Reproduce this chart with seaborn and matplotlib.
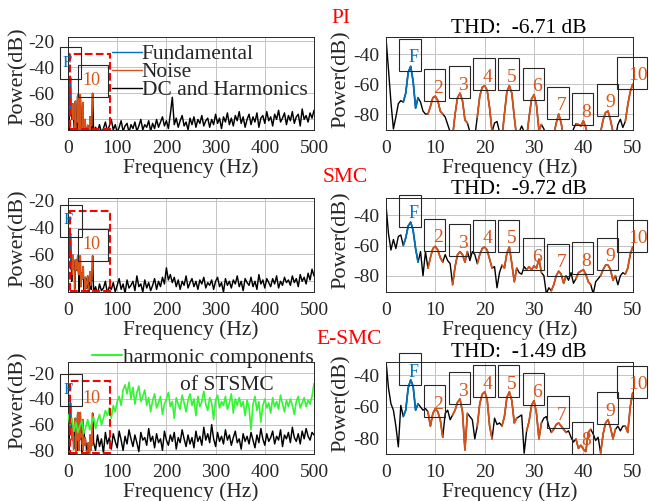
import numpy as np
import matplotlib
matplotlib.use("Agg")
import matplotlib.pyplot as plt
import seaborn as sns
from matplotlib.patches import Rectangle
from matplotlib.lines import Line2D
from matplotlib.transforms import ScaledTranslation

# ---------------- data ----------------
controllers = ["PI", "SMC", "E-SMC"]
thd_values = [-6.71, -9.72, -1.49]
harmonic_labels = ["F", "2", "3", "4", "5", "6", "7", "8", "9", "10"]
harmonic_freqs = [5, 10, 15, 20, 25, 30, 35, 40, 45, 50]

# 0-50 Hz spectrum, 0.5 Hz bins
zoom_freq = np.arange(0, 50.25, 0.5)
pi_zoom = [
    -29, -50, -72, -90, -82, -73, -71, -72, -66, -52,
    -48, -58, -76, -69, -72, -78, -80, -80, -75, -69,
    -68, -71, -78, -80, -82, -87, -92, -95, -80, -69,
    -66, -71, -84, -86, -92, -96, -95, -82, -68, -62,
    -61, -64, -76, -92, -86, -85, -92, -96, -80, -65,
    -61, -66, -82, -96, -92, -88, -92, -96, -82, -70,
    -67, -74, -91, -87, -90, -96, -96, -96, -94, -86,
    -80, -86, -96, -96, -96, -96, -90, -86.5, -87, -88,
    -84.5, -89, -96, -96, -96, -96, -96, -92, -84, -79,
    -78, -84, -92, -96, -87, -83.5, -89, -85, -74, -65,
    -60]
smc_zoom = [
    -33, -52, -63, -56, -62, -54, -53, -60, -55, -47,
    -44.5, -50, -62, -71, -64, -80, -64, -75, -68, -62,
    -60.5, -63, -68, -71, -66, -70, -72, -86, -74, -66,
    -64, -66, -71, -64, -70, -64, -66, -72, -66, -62,
    -61, -63, -69, -75, -74, -88, -78, -73, -75, -65,
    -61, -72, -84, -75, -78, -79, -74, -76, -74, -76,
    -73.5, -75, -69, -78, -80, -92, -88, -90, -86, -80,
    -77, -79, -85, -80, -83, -78, -85, -82, -78, -77,
    -76, -79, -84, -86, -92, -84, -82, -80, -76, -73,
    -73, -76, -83, -80, -86, -80, -78, -79, -75, -66,
    -61]
esmc_zoom = [
    -31, -48, -58, -62, -72, -85, -59, -66, -62, -48,
    -43, -47, -62, -58, -60, -62, -61, -63, -72, -64,
    -61, -63, -68, -79, -64, -62, -68, -65, -62, -57,
    -55, -63, -87, -64, -66, -68, -80, -72, -58, -52,
    -50.5, -55, -72, -80, -67, -71, -70, -72, -66, -54,
    -50.5, -56, -70, -67, -66, -65, -89, -75, -69, -59,
    -56, -64, -80, -70, -67, -66, -72, -76, -74, -71,
    -70, -72, -74, -76, -75, -79, -82, -80, -86, -84,
    -86.5, -88, -76, -74, -77, -81, -79, -89, -77, -70,
    -68, -73, -80, -74, -72, -75, -72, -72, -76, -60,
    -51]

# label levels of the fundamental and harmonics 2..10
pi_peaks = [-48, -68.5, -66.5, -61, -61, -67.5, -80, -84.5, -78, -60]
smc_peaks = [-44.5, -60.5, -64, -61, -61, -73.5, -77, -76, -73, -61]
esmc_peaks = [-43.5, -63.5, -55.5, -51, -51, -56, -70.5, -86.5, -68, -51.5]

# 52-500 Hz noise floor, 4 Hz bins
noise_freq = np.arange(52, 500.5, 4)
pi_noise = [
    -90, -86, -89, -84, -90, -87, -82, -89, -85, -80,
    -88, -84, -90, -86, -81, -89, -85, -83, -90, -84,
    -87, -82, -89, -85, -80, -88, -84, -86, -81, -89,
    -83, -87, -80, -86, -82, -78, -85, -81, -87, -76,
    -63, -84, -79, -86, -81, -77, -85, -82, -88, -79,
    -84, -78, -86, -80, -83, -77, -85, -81, -79, -86,
    -80, -84, -76, -83, -79, -87, -78, -82, -75, -84,
    -79, -85, -77, -81, -74, -83, -78, -86, -80, -76,
    -84, -78, -82, -75, -86, -79, -77, -83, -74, -81,
    -78, -85, -76, -80, -73, -82, -79, -75, -84, -77,
    -81, -74, -83, -78, -76, -85, -72, -80, -77, -82,
    -75, -79, -73]
smc_noise = [
    -88, -84, -90, -82, -87, -85, -80, -89, -84, -86,
    -81, -88, -83, -78, -86, -82, -89, -79, -85, -83,
    -80, -87, -76, -84, -82, -88, -79, -85, -81, -87,
    -83, -78, -86, -80, -84, -77, -82, -70, -79, -75,
    -81, -77, -84, -79, -86, -80, -83, -76, -85, -81,
    -78, -84, -80, -86, -79, -82, -77, -85, -81, -83,
    -79, -86, -80, -77, -84, -81, -88, -78, -83, -80,
    -85, -79, -82, -76, -84, -80, -87, -78, -81, -83,
    -77, -84, -80, -86, -75, -82, -79, -85, -78, -81,
    -84, -78, -82, -76, -85, -80, -83, -77, -81, -79,
    -83, -76, -81, -78, -84, -75, -80, -77, -82, -74,
    -79, -71, -76]
esmc_noise = [
    -74, -80, -68, -77, -71, -82, -66, -75, -70, -79,
    -67, -73, -78, -65, -72, -80, -69, -75, -64, -71,
    -77, -68, -74, -81, -66, -72, -70, -76, -63, -73,
    -69, -78, -67, -74, -71, -80, -65, -72, -76, -68,
    -73, -66, -79, -70, -74, -64, -71, -77, -68, -75,
    -70, -78, -65, -73, -69, -76, -62, -72, -67, -74,
    -60, -71, -77, -66, -73, -69, -75, -64, -72, -68,
    -76, -70, -65, -74, -71, -79, -67, -73, -69, -75,
    -66, -72, -78, -68, -74, -63, -71, -76, -67, -73,
    -70, -65, -75, -69, -72, -64, -77, -68, -71, -66,
    -74, -62, -70, -73, -67, -75, -65, -71, -63, -69,
    -72, -66, -68]

# harmonic components of STSMC, 0-500 Hz, 4 Hz bins
stsmc_freq = np.arange(0, 500.5, 4)
stsmc_harm = [
    -52, -60, -55, -65, -58, -66, -61, -57, -67, -62,
    -56, -64, -59, -54, -63, -57, -52, -60, -55, -49,
    -53, -47, -55, -45, -50, -42, -38, -45, -33, -29,
    -36, -27, -40, -31, -44, -35, -30, -42, -38, -33,
    -45, -39, -50, -41, -36, -47, -43, -38, -52, -44,
    -40, -35, -46, -42, -55, -39, -44, -48, -37, -43,
    -50, -41, -36, -45, -40, -53, -38, -46, -42, -34,
    -44, -49, -39, -43, -56, -41, -37, -47, -42, -45,
    -38, -48, -43, -36, -51, -40, -45, -39, -46, -42,
    -53, -41, -47, -64, -44, -38, -49, -42, -58, -45,
    -40, -47, -43, -51, -39, -46, -42, -48, -37, -44,
    -50, -41, -46, -40, -45, -52, -42, -38, -47, -43,
    -39, -46, -41, -44, -38, -28]

zoom_sets = [pi_zoom, smc_zoom, esmc_zoom]
noise_sets = [pi_noise, smc_noise, esmc_noise]
peak_sets = [pi_peaks, smc_peaks, esmc_peaks]

# ---------------- style ----------------
sns.set_style("white")
plt.rcParams["font.family"] = ["Liberation Serif", "DejaVu Serif"]
plt.rcParams["axes.unicode_minus"] = False

BLUE = "#0072BD"
ORANGE = "#D95319"
GREEN = "#33F533"
INK = "#262626"
W, H, DPI = 649, 501, 100
fig = plt.figure(figsize=(W / DPI, H / DPI), dpi=DPI)


def px_axes(x0, x1, yt, yb):
    return fig.add_axes([x0 / W, 1 - yb / H, (x1 - x0) / W, (yb - yt) / H])


def line(ax, x, y, color, lw, z=2):
    sns.lineplot(x=np.asarray(x, float), y=np.asarray(y, float), ax=ax,
                 color=color, linewidth=lw, estimator=None, sort=False,
                 legend=False, zorder=z)


def box(ax, x, y, x0, x1, y0, y1):
    tr = fig.dpi_scale_trans + ScaledTranslation(x, y, ax.transData)
    ax.add_patch(Rectangle((x0 / DPI, y0 / DPI), (x1 - x0) / DPI, (y1 - y0) / DPI,
                           transform=tr, fill=False, ec=INK, lw=0.8,
                           clip_on=False, zorder=6))


def tag(ax, x, y, s, dx, dy, color, size):
    ax.annotate(s, xy=(x, y), xytext=(dx * 72 / DPI, dy * 72 / DPI),
                textcoords="offset points", ha="center", va="center",
                color=color, fontsize=size, annotation_clip=False, zorder=7)


def style(ax, xlim, xticks, ylim, yticks, ypad, ylab_x, ylab_y):
    ax.set_xlim(xlim)
    ax.set_ylim(ylim)
    ax.set_xticks(xticks)
    ax.set_yticks(yticks)
    ax.grid(True, color="#c4c4c4", lw=0.7)
    ax.set_axisbelow(True)
    ax.tick_params(axis="both", direction="in", length=3, width=0.6,
                   labelsize=14, colors=INK)
    ax.tick_params(axis="x", pad=7)
    ax.tick_params(axis="y", pad=ypad)
    for s in ax.spines.values():
        s.set_linewidth(0.7)
        s.set_color(INK)
    ax.set_xlabel("Frequency (Hz)", fontsize=15.5, labelpad=1, color=INK)
    ax.set_ylabel("Power(dB)", fontsize=16, color=INK)
    ax.yaxis.set_label_coords(ylab_x, ylab_y)


rows = [(37.3, 130), (198.3, 292.3), (361.7, 454)]
left_ylims = [(-88.1, -17), (-88.2, -18.2), (-82.8, -11)]
right_ylims = [(-90.7, -28.5), (-91, -28.7), (-89.5, -31.6)]
rect_tops = [-30, -28, -26]
left_label_pos = [((-1, -36.6), (48, -50)),
                  ((0.5, -34.4), (48, -52.6)),
                  ((0.5, -33), (48, -40))]
ctrl_label_px = [(340.5, 18.3), (345, 177.5), (349.5, 339.5)]

zf = zoom_freq
for i in range(3):
    yt, yb = rows[i]
    zp = np.asarray(zoom_sets[i], float)

    # ---- full spectrum (left) ----
    axL = px_axes(68, 314, yt, yb)
    line(axL, np.concatenate([zf, noise_freq]),
         np.concatenate([zp, np.asarray(noise_sets[i], float)]), "black", 1.05)
    for h in harmonic_freqs:
        m = np.abs(zf - h) <= 1.5
        line(axL, zf[m], zp[m], BLUE if h == 5 else ORANGE, 1.1, 3)
    if i == 2:
        line(axL, stsmc_freq, stsmc_harm, GREEN, 1.2, 4)
    style(axL, (0, 500), range(0, 501, 100), left_ylims[i],
          [-20, -40, -60, -80], 9.5, -0.163, 0.58)
    yb0 = left_ylims[i][0] + 0.6
    axL.add_patch(Rectangle((4, yb0), 81, rect_tops[i] - yb0, fill=False,
                            ec="red", ls="--", lw=1.5, zorder=5))
    (fx, fy), (tx, ty) = left_label_pos[i]
    tag(axL, fx, fy, "F", 0, 0, BLUE, 12)
    box(axL, fx, fy, -8, 13.5, -16.5, 15.5)
    tag(axL, tx, ty, "10", 0, 0, ORANGE, 13)
    if i < 2:
        box(axL, tx, ty, -14, 16, -16.5, 15.5)

    # ---- zoomed spectrum (right) ----
    axR = px_axes(386, 632.7, yt, yb)
    line(axR, zf, zp, "black", 1.0)
    for h, lab, pk in zip(harmonic_freqs, harmonic_labels, peak_sets[i]):
        m = np.abs(zf - h) <= 1.5
        col = BLUE if lab == "F" else ORANGE
        line(axR, zf[m], zp[m], col, 1.3, 3)
        if len(lab) == 1:
            tdx, bx0, bx1 = 2.5, -11.5, 10
        else:
            tdx, bx0, bx1 = 5.5, -15.5, 14.5
        tag(axR, h, pk, lab, tdx, 8.5, col, 14 if lab != "F" else 13)
        box(axR, h, pk, bx0, bx1, -4.5, 27.5)
    style(axR, (0, 50), range(0, 51, 10), right_ylims[i],
          [-40, -60, -80], 5, -0.142, 0.55)
    axR.set_title(f"THD:  {thd_values[i]:.2f} dB", x=0.538, pad=3.3,
                  fontsize=15.5, color="black")

    cx, cy = ctrl_label_px[i]
    fig.text(cx / W, 1 - cy / H, controllers[i], color="red", fontsize=15.5,
             ha="center", va="center")

    if i == 0:
        handles = [Line2D([], [], color=BLUE, lw=1.0),
                   Line2D([], [], color=ORANGE, lw=1.0),
                   Line2D([], [], color="black", lw=1.0)]
        axL.legend(handles, ["Fundamental", "Noise", "DC and Harmonics"],
                   loc="center left", bbox_to_anchor=(111.7 / W, 1 - 72.3 / H),
                   bbox_transform=fig.transFigure, frameon=False, fontsize=15.5,
                   handlelength=1.4, handletextpad=0.0, labelspacing=-0.1,
                   borderpad=0, borderaxespad=0)
    if i == 2:
        axL.legend([Line2D([], [], color=GREEN, lw=1.5)], ["harmonic components"],
                   loc="center left", bbox_to_anchor=(91.7 / W, 1 - 357.5 / H),
                   bbox_transform=fig.transFigure, frameon=False, fontsize=15.5,
                   handlelength=1.4, handletextpad=0.05, borderpad=0,
                   borderaxespad=0)
        fig.text(226.7 / W, 1 - 385.5 / H, "of STSMC", fontsize=15.5,
                 ha="center", va="center", color=INK)

fig.savefig("out.png", dpi=DPI)
